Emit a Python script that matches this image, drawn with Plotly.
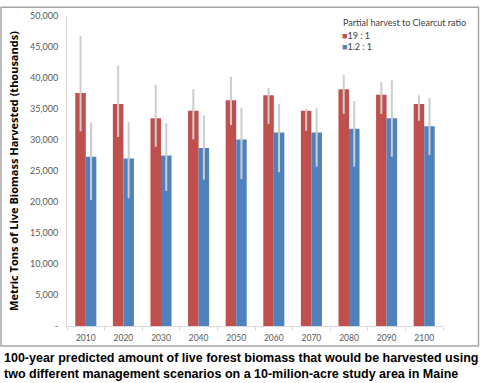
import plotly.graph_objects as go

years = ["2010", "2020", "2030", "2040", "2050", "2060", "2070", "2080", "2090", "2100"]
series_names = ["19 : 1", "1.2 : 1"]
ratio_19 = [37600, 35800, 33500, 34700, 36400, 37200, 34700, 38200, 37300, 35800]
ratio_19_hi = [46800, 42000, 38900, 38200, 40200, 38400, 35000, 40500, 39400, 37200]
ratio_19_lo = [31400, 30500, 28900, 30100, 32400, 32600, 31500, 34200, 34200, 33100]
ratio_12 = [27300, 27000, 27500, 28700, 30100, 31200, 31200, 31800, 33500, 32200]
ratio_12_hi = [32800, 32900, 32700, 34000, 35200, 35800, 35100, 36300, 39600, 36800]
ratio_12_lo = [20300, 20600, 21800, 23600, 23700, 24800, 25700, 25700, 27300, 27600]
y_tickvals = [0, 5000, 10000, 15000, 20000, 25000, 30000, 35000, 40000, 45000, 50000]
y_ticktext = ["-", "5,000", "10,000", "15,000", "20,000", "25,000", "30,000", "35,000", "40,000", "45,000", "50,000"]
legend_title = "Partial harvest to Clearcut ratio"
caption = ("100-year predicted amount of live forest biomass that would be harvested using<br>"
           "two different management scenarios on a 10-milion-acre study area in Maine")

RED = "#C0504D"
BLUE = "#4F81BD"
ERR = "#CDCDCD"
FONT = "Lato"

# plot area in pixels
L, R, T, B = 67, 443, 10, 326
W, H = R - L, B - T
def px(x):
    return (x - L) / W
def py(y):
    return (B - y) / H

def err(vals, hi, lo):
    return dict(type="data", symmetric=False,
                array=[h - v for h, v in zip(hi, vals)],
                arrayminus=[v - l for v, l in zip(vals, lo)],
                color=ERR, thickness=2, width=0)

fig = go.Figure()
fig.add_trace(go.Bar(x=years, y=ratio_19, name=series_names[0], marker=dict(color=RED, line=dict(width=0)),
                     error_y=err(ratio_19, ratio_19_hi, ratio_19_lo), showlegend=False))
fig.add_trace(go.Bar(x=years, y=ratio_12, name=series_names[1], marker=dict(color=BLUE, line=dict(width=0)),
                     error_y=err(ratio_12, ratio_12_hi, ratio_12_lo), showlegend=False))

legend_font = dict(family=FONT, size=9, color="#404040")
annotations = [
    dict(xref="paper", yref="paper", x=px(341), y=py(17), xanchor="left", yanchor="middle",
         showarrow=False, text=legend_title, font=legend_font),
]
for i, (nm, col) in enumerate(zip(series_names, [RED, BLUE])):
    annotations.append(dict(xref="paper", yref="paper", x=px(340), y=py(29.5 + 12 * i),
                            xanchor="left", yanchor="middle", showarrow=False,
                            text=f"<span style='color:{col}'>■</span>{nm}", font=legend_font))
annotations.append(dict(xref="paper", yref="paper", x=px(2), y=py(349), xanchor="left", yanchor="top",
                        align="left", showarrow=False, text=f"<b>{caption}</b>",
                        font=dict(family="Liberation Sans", size=12.5, color="#000000")))

fig.update_layout(
    width=480, height=383,
    margin=dict(l=L, r=480 - R, t=T, b=383 - B),
    paper_bgcolor="white", plot_bgcolor="white",
    barmode="group", bargap=0.44, bargroupgap=0,
    font=dict(family=FONT, size=9, color="#595959"),
    showlegend=False,
    xaxis=dict(type="category", showline=True, linecolor="#D9D9D9", linewidth=1,
               ticks="outside", tickson="boundaries", ticklen=4, tickcolor="#D9D9D9",
               ticklabelstandoff=4,
               tickfont=dict(size=8.5, color="#595959"), showgrid=False),
    yaxis=dict(range=[0, 50000], tickvals=y_tickvals, ticktext=y_ticktext,
               showline=True, linecolor="#D9D9D9", linewidth=1, showgrid=False,
               ticks="", tickfont=dict(size=9, color="#595959"), ticklabelstandoff=6,
               title=dict(text="<b>Metric Tons of Live Biomass Harvested (thousands)</b>",
                          font=dict(family="Open Sans", size=11, color="#000000"), standoff=9)),
    shapes=[dict(type="rect", xref="paper", yref="paper",
                 x0=px(1), x1=px(478.5), y0=py(346.5), y1=py(1),
                 line=dict(color="#A6A6A6", width=1.5), fillcolor="rgba(0,0,0,0)", layer="below")],
    annotations=annotations,
)

fig.write_html("out.html", config={"displayModeBar": False},
               post_script="document.body.style.margin='0';document.body.style.padding='0';")
